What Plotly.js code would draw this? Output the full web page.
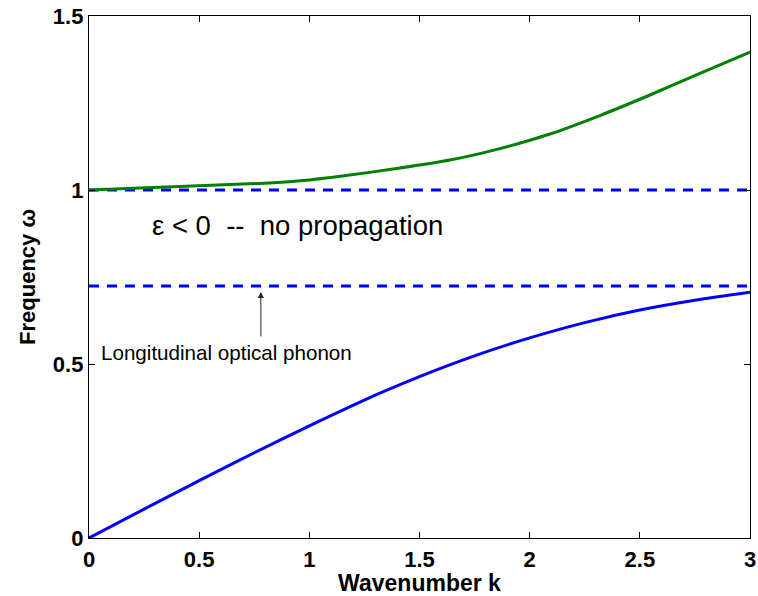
<!DOCTYPE html>
<html>
<head>
<meta charset="utf-8">
<script src="https://cdn.plot.ly/plotly-3.0.1.min.js"></script>
<style>html,body{margin:0;padding:0;background:#fff;}</style>
</head>
<body>
<div id="chart" style="width:758px;height:596px;"></div>
<script>
// Upper polariton branch (green)
const upperK = [0, 0.82, 1.0, 1.15, 1.411, 1.638, 1.865, 2.092, 2.319, 2.546, 2.773, 3.0];
const upperW = [1.0, 1.020, 1.029, 1.040, 1.063, 1.086, 1.119, 1.161, 1.214, 1.273, 1.335, 1.396];
// Lower polariton branch (blue)
const lowerK = [0, 0.25, 0.5, 0.75, 1.0, 1.32, 1.5, 1.766, 2.0, 2.25, 2.5, 2.75, 3.0];
const lowerW = [0, 0.083, 0.165, 0.245, 0.322, 0.416, 0.464, 0.527, 0.575, 0.619, 0.655, 0.683, 0.706];
// Horizontal reference levels (dashed)
const refK = [0, 3];
const levelHigh = [1.0, 1.0];
const levelLow = [0.724, 0.724];
// Ticks
const xTickVals = [0, 0.5, 1, 1.5, 2, 2.5, 3];
const xTickText = ["0", "0.5", "1", "1.5", "2", "2.5", "3"];
const yTickVals = [0, 0.5, 1, 1.5];
const yTickText = ["0", "0.5", "1", "1.5"];

const FONT = "Liberation Sans, Arial, Helvetica, sans-serif";

const traces = [
  {x: refK, y: levelHigh, mode: "lines", line: {color: "#0000ff", width: 3, dash: "10px,8px"}, hoverinfo: "skip"},
  {x: refK, y: levelLow, mode: "lines", line: {color: "#0000ff", width: 3, dash: "10px,8px"}, hoverinfo: "skip"},
  {x: upperK, y: upperW, mode: "lines", line: {color: "#008000", width: 3, shape: "spline", smoothing: 0.5}},
  {x: lowerK, y: lowerW, mode: "lines", line: {color: "#0000ff", width: 3, shape: "spline", smoothing: 0.6}}
];

const axisCommon = {
  showgrid: false, zeroline: false, showline: true, linecolor: "#000", linewidth: 1.2,
  mirror: "ticks", ticks: "inside", ticklen: 6, tickwidth: 1, tickcolor: "#000",
  tickfont: {family: FONT, size: 22, color: "#000", weight: "bold"}
};

const layout = {
  width: 758, height: 596,
  margin: {l: 89, r: 8, t: 16, b: 58},
  paper_bgcolor: "#fff", plot_bgcolor: "#fff",
  showlegend: false,
  xaxis: Object.assign({}, axisCommon, {
    range: [0, 3], tickmode: "array", tickvals: xTickVals, ticktext: xTickText,
    ticklabelstandoff: 1,
    title: {text: "Wavenumber k", font: {family: FONT, size: 23, color: "#000", weight: "bold"}, standoff: 0}
  }),
  yaxis: Object.assign({}, axisCommon, {
    range: [0, 1.5], tickmode: "array", tickvals: yTickVals, ticktext: yTickText,
    title: {text: "Frequency ω", font: {family: FONT, size: 22, color: "#000", weight: "bold"}}
  }),
  annotations: [
    {x: 0.277, y: 0.899, xref: "x", yref: "y", xanchor: "left", yanchor: "middle", showarrow: false,
     text: "ε < 0\u00a0\u00a0--\u00a0\u00a0no propagation", font: {family: FONT, size: 27.5, color: "#000"}},
    {x: 0.045, y: 0.534, xref: "x", yref: "y", xanchor: "left", yanchor: "middle", showarrow: false,
     text: "Longitudinal optical phonon", font: {family: FONT, size: 20.6, color: "#000"}},
    {x: 0.78, y: 0.707, xref: "x", yref: "y", ax: 0.78, ay: 0.575, axref: "x", ayref: "y",
     showarrow: true, arrowhead: 2, arrowsize: 1.2, arrowwidth: 1, arrowcolor: "#222", text: ""}
  ]
};

Plotly.newPlot("chart", traces, layout, {displayModeBar: false, staticPlot: true});
</script>
</body>
</html>
